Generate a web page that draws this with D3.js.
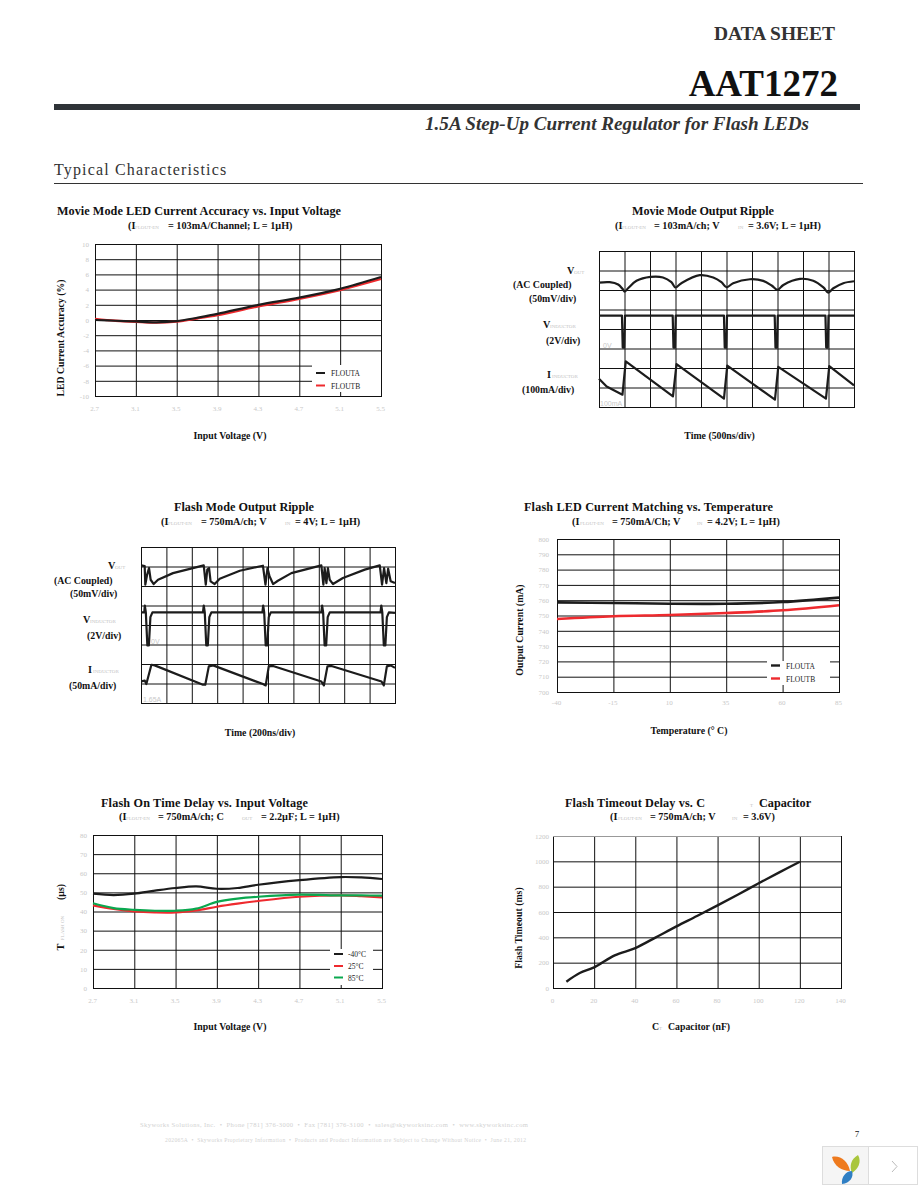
<!DOCTYPE html>
<html>
<head>
<meta charset="utf-8">
<script src="https://d3js.org/d3.v7.min.js"></script>
<title>AAT1272 Typical Characteristics</title>
<style>
    html, body { margin: 0; padding: 0; background: #fff; }
    svg { display: block; }
    text { font-family: "Liberation Serif", serif; fill: #111; }
    .title { font-size: 12.2px; font-weight: bold; }
    .sub { font-size: 10.2px; font-weight: bold; }
    .lab { font-size: 9.8px; font-weight: bold; }
    .tiny { font-size: 5px; fill: #c4c4c4; }
    .note { font-size: 7px; fill: #c8c8c8; font-family: "Liberation Sans", sans-serif; }
    .leg { font-size: 7.5px; fill: #222; }
    .foot { font-size: 6.6px; fill: #d2d2d2; }
    .axis text { fill: #c8c8c8; font-size: 7px; font-family: "Liberation Serif", serif; }
    .axis line, .axis path { stroke: #111; stroke-width: 1; }
</style>
</head>
<body>
<svg width="918" height="1188"></svg>
<script>
// chart 1: LED current accuracy
var accVin = [2.7, 2.9, 3.1, 3.3, 3.5, 3.7, 3.9, 4.3, 4.7, 5.1, 5.5];
var accA = [0, -0.1, -0.2, -0.3, -0.15, 0.3, 0.8, 2, 2.95, 4.1, 5.65];
var accB = [0.15, -0.1, -0.25, -0.35, -0.2, 0.2, 0.65, 1.8, 2.8, 3.95, 5.4];
var accXTicks = [2.7, 3.1, 3.5, 3.9, 4.3, 4.7, 5.1, 5.5];
var accYTicks = [-10, -8, -6, -4, -2, 0, 2, 4, 6, 8, 10];

// chart 2: movie mode scope traces, in divisions
var mvOutT = [0, .42, .75, .92, 1.01, 1.14, 1.47, 2.02, 2.51, 2.84, 3, 3.23, 3.95, 4.48, 4.8, 5, 5.26, 5.92, 6.44, 6.77, 7, 7.23, 7.88, 8.4, 8.8, 8.99, 9.19, 9.58, 10];
var mvOutV = [6.38, 6.4, 6.28, 6.06, 5.92, 6.09, 6.47, 6.67, 6.64, 6.4, 6.13, 6.35, 6.76, 6.64, 6.4, 6.14, 6.35, 6.55, 6.47, 6.23, 6.01, 6.26, 6.57, 6.47, 6.13, 5.87, 6.09, 6.35, 6.45];
var mvSwT = [0, .9, .93, .99, 1.02, 2.89, 2.92, 2.98, 3.01, 4.9, 4.93, 4.99, 5.02, 6.89, 6.92, 6.98, 7.01, 8.88, 8.91, 8.97, 9, 10];
var mvSwV = [4.69, 4.69, 3.05, 3.05, 4.69, 4.69, 3.05, 3.05, 4.69, 4.69, 3.05, 3.05, 4.69, 4.69, 3.05, 3.05, 4.69, 4.69, 3.05, 3.05, 4.69, 4.69];
var mvIT = [0, .3, .92, 1, 1.05, 2.9, 3.04, 4.9, 5.03, 6.9, 7.03, 8.9, 9.03, 10];
var mvIV = [1.45, 1.05, .63, 1.7, 2.34, .55, 2.2, .43, 2.12, .38, 2.06, .43, 2.1, 1.11];

// chart 3: flash mode scope traces, in divisions
var flOutT = [.01, .145, .17, .24, .316, .38, .5, .67, 1.26, 2.47, 2.55, 2.61, 2.68, 2.74, 2.9, 3.1, 3.89, 4.8, 4.9, 4.98, 5.06, 5.2, 5.39, 5.92, 7.1, 7.18, 7.23, 7.3, 7.36, 7.43, 7.56, 7.95, 8.81, 9.4, 9.49, 9.57, 9.66, 9.73, 9.83, 10];
var flOutV = [7.06, 7.02, 6.07, 6.58, 6.92, 6.32, 6.1, 6.32, 6.66, 7.06, 6.07, 6.84, 6.92, 6.24, 6.1, 6.37, 6.78, 7.04, 6.07, 6.92, 6.5, 6.1, 6.27, 6.66, 7.06, 6.07, 6.92, 6.15, 6.92, 6.32, 6.1, 6.41, 6.84, 7.06, 6.07, 6.92, 6.15, 6.89, 6.24, 6.15];
var flSwT = [0, .13, .15, .19, .25, .31, .37, .45, 2.44, 2.47, 2.51, 2.57, 2.63, 2.69, 2.77, 4.78, 4.81, 4.85, 4.91, 4.97, 5.03, 5.11, 7.1, 7.13, 7.17, 7.23, 7.29, 7.35, 7.43, 9.43, 9.46, 9.5, 9.56, 9.62, 9.68, 9.76, 10];
var flSwV = [4.65, 4.65, 5, 4.65, 2.95, 2.95, 4.4, 4.65, 4.65, 5, 4.65, 2.95, 2.95, 4.4, 4.65, 4.65, 5, 4.65, 2.95, 2.95, 4.4, 4.65, 4.65, 5, 4.65, 2.95, 2.95, 4.4, 4.65, 4.65, 5, 4.65, 2.95, 2.95, 4.4, 4.65, 4.62];
var flIT = [.01, .15, .21, .41, .54, 2.44, 2.53, 2.67, 2.84, 4.8, 4.91, 5.03, 5.2, 7.1, 7.2, 7.34, 7.5, 9.47, 9.56, 9.68, 9.83, 10];
var flIV = [1.11, 1.15, .97, 1.96, 1.93, .94, .94, 1.88, 1.93, .97, .9, 1.88, 1.9, 1.1, .9, 1.88, 1.9, 1.1, .9, 1.88, 1.93, 1.8];

// chart 4: current matching
var matTemp = [-40, -15, 10, 35, 60, 85];
var matA = [758.6, 758.2, 757.7, 757.7, 758.8, 761.7];
var matB = [747.7, 749.5, 750.3, 751.6, 753.4, 756.7];
var matYTicks = [700, 710, 720, 730, 740, 750, 760, 770, 780, 790, 800];

// chart 5: on time delay
var delVin = [2.7, 2.9, 3.1, 3.3, 3.5, 3.7, 3.9, 4.1, 4.3, 4.7, 5.1, 5.3, 5.5];
var delM40 = [49.3, 48.6, 49.3, 50.9, 52.3, 53.1, 51.9, 52.3, 54, 56.4, 58, 57.8, 57];
var del25 = [43.2, 41.3, 40, 39.5, 39.5, 40.6, 42.5, 44.1, 45.5, 47.7, 48.4, 48, 47.4];
var del85 = [44.3, 41.8, 40.9, 40.4, 40.4, 41.5, 45, 46.7, 47.7, 48.8, 48.4, 48.4, 48.3];
var delYTicks = [0, 10, 20, 30, 40, 50, 60, 70, 80];

// chart 6: timeout delay
var toCap = [6.5, 13, 20, 30, 40, 50, 60, 70, 80, 90, 100, 110, 120];
var toMs = [50, 118, 163, 257, 315, 400, 486, 568, 652, 738, 827, 913, 997];
var toXTicks = [0, 20, 40, 60, 80, 100, 120, 140];
var toYTicks = [0, 200, 400, 600, 800, 1000, 1200];

var scopeCols = [0, 1, 2, 3, 4, 5, 6, 7, 8, 9, 10];
var scopeRows = [0, 1, 2, 3, 4, 5, 6, 7, 8];

var BLACK = '#1c1c1c', RED = '#ee2a2e', GREEN = '#0aa84f';

var svg = d3.select('svg');

function txt(x, y, s, cls, anchor) {
    return svg.append('text')
        .attr('x', x).attr('y', y)
        .attr('class', cls)
        .attr('text-anchor', anchor || 'start')
        .text(s);
}

function vtxt(x, y, s, cls) {
    return svg.append('text')
        .attr('transform', 'translate(' + x + ',' + y + ') rotate(-90)')
        .attr('class', cls)
        .attr('text-anchor', 'middle')
        .text(s);
}

// plot frame, grid and tick labels
function plot(box, xDom, yDom, xTicks, yTicks, xFmt, yFmt) {
    var x = d3.scaleLinear().domain(xDom).range([box.l, box.r]);
    var y = d3.scaleLinear().domain(yDom).range([box.b, box.t]);
    svg.append('g')
        .attr('class', 'axis')
        .attr('transform', 'translate(0,' + box.b + ')')
        .call(d3.axisBottom(x).tickValues(xTicks).tickSize(box.t - box.b).tickSizeOuter(0).tickFormat(xFmt))
        .selectAll('text').attr('dy', 0).attr('y', box.xo || 14.5).attr('dx', -1);
    svg.append('g')
        .attr('class', 'axis')
        .attr('transform', 'translate(' + box.l + ',0)')
        .call(d3.axisLeft(y).tickValues(yTicks).tickSize(box.l - box.r).tickSizeOuter(0).tickFormat(yFmt))
        .selectAll('text').attr('x', box.yo || -6);
    svg.append('rect')
        .attr('x', box.l + .5).attr('y', box.t + .5)
        .attr('width', box.r - box.l).attr('height', box.b - box.t)
        .attr('fill', 'none').attr('stroke', '#111');
    return {x: x, y: y};
}

function trace(p, xs, ys, color, width, curve) {
    var line = d3.line()
        .x(function (d) { return p.x(d); })
        .y(function (d, i) { return p.y(ys[i]); })
        .curve(curve || d3.curveLinear);
    svg.append('path')
        .attr('d', line(xs))
        .attr('fill', 'none')
        .attr('stroke', color)
        .attr('stroke-width', width)
        .attr('stroke-linejoin', 'round');
}

function legend(x, y, w, h, x1, x2, tx, items, lw) {
    svg.append('rect').attr('x', x).attr('y', y).attr('width', w).attr('height', h).attr('fill', '#fff');
    items.forEach(function (it) {
        svg.append('line').attr('x1', x1).attr('x2', x2).attr('y1', it.y).attr('y2', it.y)
            .attr('stroke', it.color).attr('stroke-width', lw);
        txt(tx, it.y + 3.4, it.label, 'leg');
    });
}

var f1 = d3.format('.1f'), f0 = function (d) { return String(d); }, none = function () { return ''; };
var smooth = d3.curveCatmullRom;

// page header
txt(714, 40, 'DATA SHEET', 'x').attr('textLength', 121).attr('lengthAdjust', 'spacingAndGlyphs')
    .style('font-size', '18px').style('font-weight', 'bold').style('fill', '#333');
txt(838, 96, 'AAT1272', 'x', 'end').style('font-size', '37px').style('font-weight', 'bold');
svg.append('rect').attr('x', 54).attr('y', 104).attr('width', 806).attr('height', 6).attr('fill', '#2f3338');
txt(425, 130, '1.5A Step-Up Current Regulator for Flash LEDs', 'x').attr('textLength', 384).attr('lengthAdjust', 'spacingAndGlyphs')
    .style('font-size', '18px').style('font-weight', 'bold').style('font-style', 'italic').style('fill', '#333');
txt(54, 175, 'Typical Characteristics', 'x').style('font-size', '16px').style('fill', '#333').style('letter-spacing', '1.15px');
svg.append('rect').attr('x', 54).attr('y', 183).attr('width', 809).attr('height', 1).attr('fill', '#333');

// chart 1
txt(57, 215, 'Movie Mode LED Current Accuracy vs. Input Voltage', 'title').attr('textLength', 284);
txt(128, 229, '(I', 'sub'); txt(135, 229, 'FLOUT-EN', 'tiny'); txt(168, 229, '= 103mA/Channel; L = 1µH)', 'sub');
var p1 = plot({l: 95, r: 381, t: 244, b: 396}, [2.7, 5.5], [-10, 10], accXTicks, accYTicks, f1, f0);
trace(p1, accVin, accB, RED, 2.4, smooth);
trace(p1, accVin, accA, BLACK, 2.2, smooth);
legend(312, 365, 69, 27, 316, 325, 331, [{y: 373, color: BLACK, label: 'FLOUTA'}, {y: 385.5, color: RED, label: 'FLOUTB'}], 2);
vtxt(64, 338, 'LED Current Accuracy (%)', 'lab');
txt(230, 439, 'Input Voltage (V)', 'lab', 'middle');

// chart 2
txt(632, 215, 'Movie Mode Output Ripple', 'title').attr('textLength', 142);
txt(615, 229, '(I', 'sub'); txt(622, 229, 'FLOUT-EN', 'tiny'); txt(654, 229, '= 103mA/ch; V', 'sub');
txt(738, 229, 'IN', 'tiny'); txt(748, 229, '= 3.6V; L = 1µH)', 'sub');
var p2 = plot({l: 599, r: 854, t: 251, b: 407}, [0, 10], [0, 8], scopeCols, scopeRows, none, none);
trace(p2, mvOutT, mvOutV, BLACK, 2.2, smooth);
trace(p2, mvSwT, mvSwV, BLACK, 2.2);
trace(p2, mvIT, mvIV, BLACK, 2.2);
txt(603, 348, '0V', 'note'); txt(600, 406, '100mA', 'note');
txt(567, 274, 'V', 'sub'); txt(574, 274, 'OUT', 'tiny');
txt(513, 288, '(AC Coupled)', 'lab'); txt(529, 302, '(50mV/div)', 'lab');
txt(543, 328, 'V', 'sub'); txt(550, 328, 'INDUCTOR', 'tiny'); txt(546, 344, '(2V/div)', 'lab');
txt(547, 378, 'I', 'sub'); txt(552, 378, 'INDUCTOR', 'tiny'); txt(522, 393, '(100mA/div)', 'lab');
txt(719.5, 439, 'Time (500ns/div)', 'lab', 'middle');

// chart 3
txt(174, 511, 'Flash Mode Output Ripple', 'title').attr('textLength', 140);
txt(161, 525, '(I', 'sub'); txt(168, 525, 'FLOUT-EN', 'tiny'); txt(201, 525, '= 750mA/ch; V', 'sub');
txt(285, 525, 'IN', 'tiny'); txt(295, 525, '= 4V; L = 1µH)', 'sub');
var p3 = plot({l: 141, r: 395, t: 547, b: 703}, [0, 10], [0, 8], scopeCols, scopeRows, none, none);
trace(p3, flOutT, flOutV, BLACK, 2.2);
trace(p3, flSwT, flSwV, BLACK, 2.2);
trace(p3, flIT, flIV, BLACK, 2.2);
txt(151, 644, '0V', 'note'); txt(143, 702, '1.65A', 'note');
txt(108, 569, 'V', 'sub'); txt(115, 569, 'OUT', 'tiny');
txt(54, 584, '(AC Coupled)', 'lab'); txt(70, 597, '(50mV/div)', 'lab');
txt(83, 623, 'V', 'sub'); txt(90, 623, 'INDUCTOR', 'tiny'); txt(87, 639, '(2V/div)', 'lab');
txt(88, 673, 'I', 'sub'); txt(93, 673, 'INDUCTOR', 'tiny'); txt(69, 689, '(50mA/div)', 'lab');
txt(260, 736, 'Time (200ns/div)', 'lab', 'middle');

// chart 4
txt(524, 511, 'Flash LED Current Matching vs. Temperature', 'title').attr('textLength', 249);
txt(572, 525, '(I', 'sub'); txt(580, 525, 'FLOUT-EN', 'tiny'); txt(612, 525, '= 750mA/Ch; V', 'sub');
txt(697, 525, 'IN', 'tiny'); txt(707, 525, '= 4.2V; L = 1µH)', 'sub');
var p4 = plot({l: 557, r: 839, t: 539, b: 692, xo: 13, yo: -8}, [-40, 85], [700, 800], matTemp, matYTicks, f0, f0);
trace(p4, matTemp, matA, BLACK, 2.6, smooth);
trace(p4, matTemp, matB, RED, 2.6, smooth);
legend(767, 661, 63, 24, 771, 780, 786, [{y: 665.5, color: BLACK, label: 'FLOUTA'}, {y: 678.5, color: RED, label: 'FLOUTB'}], 2.4);
vtxt(523, 630, 'Output Current (mA)', 'lab');
txt(689, 734, 'Temperature (° C)', 'lab', 'middle');

// chart 5
txt(101, 807, 'Flash On Time Delay vs. Input Voltage', 'title').attr('textLength', 207);
txt(119, 820, '(I', 'sub'); txt(126, 820, 'FLOUT-EN', 'tiny'); txt(158, 820, '= 750mA/ch; C', 'sub');
txt(242, 820, 'OUT', 'tiny'); txt(261, 820, '= 2.2µF; L = 1µH)', 'sub');
var p5 = plot({l: 93, r: 382, t: 835, b: 988}, [2.7, 5.5], [0, 80], accXTicks, delYTicks, f1, f0);
trace(p5, delVin, delM40, BLACK, 2.2, smooth);
trace(p5, delVin, del25, RED, 2.2, smooth);
trace(p5, delVin, del85, GREEN, 2.2, smooth);
legend(330, 949, 43, 36, 334, 343, 348, [{y: 954, color: BLACK, label: '-40°C'}, {y: 966, color: RED, label: '25°C'}, {y: 977.5, color: GREEN, label: '85°C'}], 2);
vtxt(64, 947, 'T', 'sub'); vtxt(64, 928, 'FLASH ON', 'tiny'); vtxt(64, 892, '(µs)', 'lab');
txt(230, 1030, 'Input Voltage (V)', 'lab', 'middle');

// chart 6
txt(565, 807, 'Flash Timeout Delay vs. C', 'title').attr('textLength', 140); txt(750, 807, 'T', 'tiny'); txt(759, 807, 'Capacitor', 'title');
txt(610, 820, '(I', 'sub'); txt(618, 820, 'FLOUT-EN', 'tiny'); txt(650, 820, '= 750mA/ch; V', 'sub');
txt(732, 820, 'IN', 'tiny'); txt(743, 820, '= 3.6V)', 'sub');
var p6 = plot({l: 553, r: 841, t: 836, b: 988, yo: -4}, [0, 140], [0, 1200], toXTicks, toYTicks, f0, f0);
svg.append('line').attr('x1', 553).attr('x2', 841).attr('y1', 836.5).attr('y2', 836.5).attr('stroke', '#999');
trace(p6, toCap, toMs, BLACK, 2.4, smooth);
vtxt(522, 928, 'Flash Timeout (ms)', 'lab');
txt(652, 1030, 'C', 'lab'); txt(659, 1030, 'T', 'tiny'); txt(668, 1030, 'Capacitor (nF)', 'lab');

// footer
txt(140, 1127, 'Skyworks Solutions, Inc.  •  Phone [781] 376-3000  •  Fax [781] 376-3100  •  sales@skyworksinc.com  •  www.skyworksinc.com', 'foot').attr('textLength', 388).style('white-space', 'pre');
txt(165, 1142, '202065A  •  Skyworks Proprietary Information  •  Products and Product Information are Subject to Change Without Notice  •  June 21, 2012', 'foot').attr('textLength', 361).style('font-size', '5.6px').style('white-space', 'pre');
txt(857, 1137, '7', 'x', 'middle').style('font-size', '9px');

// viewer widget in the corner
svg.append('rect').attr('x', 822.5).attr('y', 1146.5).attr('width', 46).attr('height', 38).attr('fill', '#f5f5f5').attr('stroke', '#ddd');
svg.append('rect').attr('x', 868.5).attr('y', 1146.5).attr('width', 49).attr('height', 38).attr('fill', '#fff').attr('stroke', '#ddd');
var petals = [
    {d: 'M832,1157 C840,1155 848,1161 850,1171 C842,1171 834,1166 832,1157 Z', fill: '#ee7a1e'},
    {d: 'M858,1155 C862,1162 858,1169 852,1173 C849,1166 851,1159 858,1155 Z', fill: '#a9c63c'},
    {d: 'M842,1184 C841,1177 846,1171 852,1171 C854,1177 850,1183 842,1184 Z', fill: '#2f7fc4'}
];
petals.forEach(function (d) { svg.append('path').attr('d', d.d).attr('fill', d.fill); });
svg.append('path').attr('d', 'M892,1161 L897,1166.5 L892,1172').attr('fill', 'none').attr('stroke', '#bbb');
</script>
</body>
</html>
